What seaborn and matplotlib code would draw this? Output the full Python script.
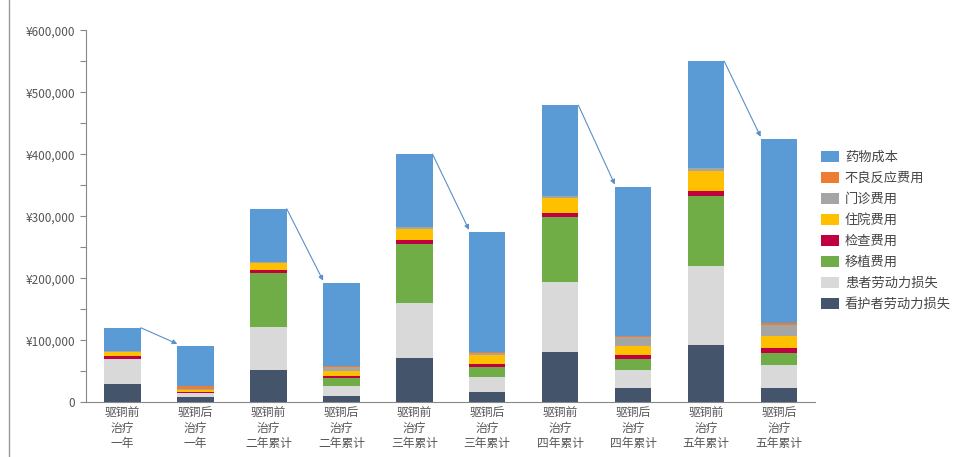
import seaborn as sns
import matplotlib.pyplot as plt
import matplotlib.ticker as mticker
from matplotlib.lines import Line2D
import pandas as pd

# categories (before / after pairs)
categories = [
    "驱铜前\n治疗\n一年", "驱铜后\n治疗\n一年",
    "驱铜前\n治疗\n二年累计", "驱铜后\n治疗\n二年累计",
    "驱铜前\n治疗\n三年累计", "驱铜后\n治疗\n三年累计",
    "驱铜前\n治疗\n四年累计", "驱铜后\n治疗\n四年累计",
    "驱铜前\n治疗\n五年累计", "驱铜后\n治疗\n五年累计",
]

# cost components, stacked bottom -> top (values in yuan)
caregiver_loss = [30000, 9000, 52000, 10000, 71000, 16000, 81000, 23000, 93000, 23000]
patient_loss = [40000, 6000, 69000, 16000, 89000, 24000, 113000, 29000, 126000, 37000]
transplant = [0, 0, 87000, 13000, 95000, 16000, 105000, 18000, 114000, 19000]
exam = [5000, 2000, 5000, 4000, 6000, 6000, 6000, 6000, 8000, 8000]
inpatient = [6000, 3000, 11000, 8000, 19000, 14000, 24000, 15000, 32000, 19000]
outpatient = [1000, 2000, 2000, 5000, 2000, 3000, 4000, 14000, 4000, 19000]
adverse = [0, 4000, 0, 3000, 0, 2000, 0, 2000, 0, 2000]
drug = [38000, 64000, 86000, 133000, 118000, 193000, 146000, 240000, 173000, 297000]

layers = [
    ("看护者劳动力损失", caregiver_loss, "#44546A"),
    ("患者劳动力损失", patient_loss, "#D9D9D9"),
    ("移植费用", transplant, "#70AD47"),
    ("检查费用", exam, "#C00040"),
    ("住院费用", inpatient, "#FFC000"),
    ("门诊费用", outpatient, "#A5A5A5"),
    ("不良反应费用", adverse, "#ED7D31"),
    ("药物成本", drug, "#5B9BD5"),
]

df = pd.DataFrame({name: vals for name, vals, _ in layers}, index=categories)
cum = df.cumsum(axis=1)
cum["category"] = categories

sns.set_style("white")
plt.rcParams["font.family"] = ["Noto Sans CJK SC", "DejaVu Sans"]

fig = plt.figure(figsize=(9.57, 4.57), dpi=100)
ax = fig.add_axes([0.090, 0.120, 0.762, 0.814])

# draw cumulative totals from the top layer down so each layer overlays the next
for name, _, color in reversed(layers):
    sns.barplot(data=cum, x="category", y=name, order=categories, color=color,
                width=0.5, linewidth=0, saturation=1, ax=ax, label=name)

# arrows from each "before" bar to the matching "after" bar
totals = cum[layers[-1][0]].tolist()
for i in range(0, len(categories), 2):
    ax.annotate("", xy=(i + 0.75, totals[i + 1] + 4000), xytext=(i + 0.25, totals[i]),
                arrowprops=dict(arrowstyle="-|>", color="#5B8FC8", lw=0.8,
                                mutation_scale=7, shrinkA=0, shrinkB=0))

ax.set_ylim(0, 600000)
ax.set_xlim(-0.5, len(categories) - 0.5)
ax.yaxis.set_major_locator(mticker.MultipleLocator(100000))
ax.yaxis.set_minor_locator(mticker.MultipleLocator(50000))
ax.yaxis.set_major_formatter(
    mticker.FuncFormatter(lambda v, p: "0" if v == 0 else f"¥{int(v):,}"))
ax.tick_params(axis="y", which="both", direction="out", left=True, length=4,
               width=0.8, color="#888888", labelsize=8.5, labelcolor="#555555", pad=4)
ax.tick_params(axis="x", length=0, labelsize=8.5, labelcolor="#555555", pad=3)
for lbl in ax.get_xticklabels():
    lbl.set_linespacing(1.25)
ax.set_xlabel("")
ax.set_ylabel("")
for side in ["top", "right"]:
    ax.spines[side].set_visible(False)
for side in ["left", "bottom"]:
    ax.spines[side].set_color("#888888")
    ax.spines[side].set_linewidth(0.8)

handles, labels = ax.get_legend_handles_labels()
leg = ax.legend(handles, labels, loc="center left", bbox_to_anchor=(0.995, 0.46),
                frameon=False, fontsize=9.5, handlelength=1.36, handleheight=0.9,
                labelspacing=0.6, handletextpad=0.45, labelcolor="#444444",
                borderaxespad=0.3)

fig.add_artist(Line2D([0.009, 0.009], [0.0, 1.0], color="#999999", lw=1))

fig.savefig("out.png", dpi=100)
